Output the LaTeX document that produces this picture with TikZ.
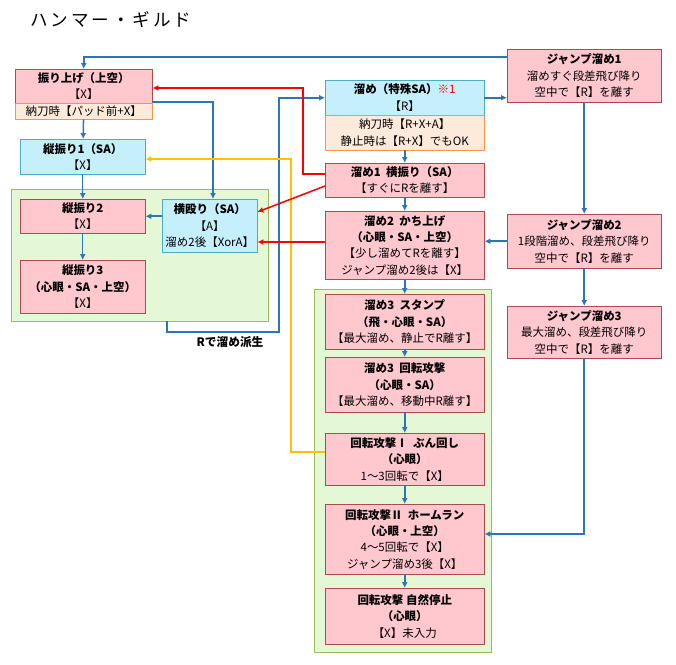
\documentclass[tikz,border=0pt]{standalone}
\usepackage{fontspec}
\setmainfont{Noto Sans CJK JP}
\usepackage{xcolor}
\usetikzlibrary{arrows.meta}
\definecolor{pinkF}{HTML}{FFC7CE}
\definecolor{pinkD}{HTML}{B04A4A}
\definecolor{blueF}{HTML}{C6EFFC}
\definecolor{blueD}{HTML}{4BACC6}
\definecolor{oranF}{HTML}{FDEADA}
\definecolor{oranD}{HTML}{F79646}
\definecolor{greenF}{HTML}{E4F8D6}
\definecolor{greenD}{HTML}{9BBB59}
\definecolor{lineB}{HTML}{2E75B6}
\definecolor{lineR}{HTML}{FF0000}
\definecolor{lineY}{HTML}{FFC000}
\tikzset{
  box/.style={anchor=north west, inner sep=0pt, align=center, font=\fontsize{9.8}{14}\selectfont},
  pinkbox/.style={box, draw=pinkD, fill=pinkF},
  bluebox/.style={box, draw=blueD, fill=blueF},
  subbox/.style={box, draw=oranD, fill=oranF},
  group/.style={draw=greenD, fill=greenF},
  link/.style={draw=lineB, line width=1.3pt, -{Latex[length=5pt,width=5pt]}},
  redlink/.style={link, draw=lineR},
  yellink/.style={link, draw=lineY}
}
\begin{document}
\begin{tikzpicture}[x=0.03cm, y=-0.03cm]
	\useasboundingbox (0,0) rectangle (676,664);
	\fill[white] (0,0) rectangle (676,664);
	\node[anchor=west, font=\fontsize{15}{17}\selectfont] (title) at (26,20) {ハ\,ン\,マ\,ー\,・\,ギ\,ル\,ド};

	% groups
	\draw[group] (11,189) rectangle (268,321);
	\draw[group] (314,289) rectangle (491,652);
	\coordinate (gleft) at (167,321);

	% left column
	\node[pinkbox, minimum width=4.11cm, minimum height=1.02cm] (furiage) at (15,69) {\textbf{振り上げ（上空）}\\【X】};
	\node[subbox, minimum width=4.11cm, minimum height=0.48cm] (furiagesub) at (15,103) {納刀時【パッド前+X】};
	\node[bluebox, minimum width=3.75cm, minimum height=1.05cm] (tate1) at (20,139) {\textbf{縦振り1（SA）}\\【X】};
	\node[pinkbox, minimum width=3.75cm, minimum height=1.02cm] (tate2) at (20,199) {\textbf{縦振り2}\\【X】};
	\node[pinkbox, minimum width=3.75cm, minimum height=1.59cm] (tate3) at (20,260) {\textbf{縦振り3}\\\textbf{（心眼・SA・上空）}\\【X】};
	\node[bluebox, minimum width=2.85cm, minimum height=1.59cm] (yoko) at (162,199) {\textbf{横殴り（SA）}\\【A】\\溜め2後【XorA】};

	% charge column
	\node[bluebox, minimum width=4.77cm, minimum height=1.05cm] (tame) at (325,80) {\textbf{溜め（特殊SA）}\textcolor{lineR}{※1}\\【R】};
	\node[subbox, minimum width=4.77cm, minimum height=1.05cm] (tamesub) at (325,115) {納刀時【R+X+A】\\静止時は【R+X】でもOK};
	\node[pinkbox, minimum width=4.77cm, minimum height=1.02cm] (tame1) at (325,163) {\textbf{溜め1\ \ 横振り（SA）}\\【すぐにRを離す】};
	\node[pinkbox, minimum width=4.77cm, minimum height=2.04cm] (tame2) at (325,211) {\textbf{溜め2\ \ かち上げ}\\\textbf{（心眼・SA・上空）}\\【少し溜めてRを離す】\\ジャンプ溜め2後は【X】};
	\node[pinkbox, minimum width=4.77cm, minimum height=1.65cm] (tame3a) at (325,294) {\textbf{溜め3\ \ スタンプ}\\\textbf{（飛・心眼・SA）}\\【最大溜め、静止でR離す】};
	\node[pinkbox, minimum width=4.77cm, minimum height=1.65cm] (tame3b) at (325,357) {\textbf{溜め3\ \ 回転攻撃}\\\textbf{（心眼・SA）}\\【最大溜め、移動中R離す】};
	\node[pinkbox, minimum width=4.77cm, minimum height=1.56cm] (kaiten1) at (325,433) {\textbf{回転攻撃Ⅰ\ \ ぶん回し}\\\textbf{（心眼）}\\1～3回転で【X】};
	\node[pinkbox, minimum width=4.77cm, minimum height=2.1cm] (kaiten2) at (325,504) {\textbf{回転攻撃Ⅱ\ \ ホームラン}\\\textbf{（心眼・上空）}\\4～5回転で【X】\\ジャンプ溜め3後【X】};
	\node[pinkbox, minimum width=4.77cm, minimum height=1.68cm] (teishi) at (325,588) {\textbf{回転攻撃\ 自然停止}\\\textbf{（心眼）}\\【X】未入力};

	% jump column
	\node[pinkbox, minimum width=4.62cm, minimum height=1.59cm] (jump1) at (507,49) {\textbf{ジャンプ溜め1}\\溜めすぐ段差飛び降り\\空中で【R】を離す};
	\node[pinkbox, minimum width=4.62cm, minimum height=1.62cm] (jump2) at (507,214) {\textbf{ジャンプ溜め2}\\1段階溜め、段差飛び降り\\空中で【R】を離す};
	\node[pinkbox, minimum width=4.62cm, minimum height=1.56cm] (jump3) at (507,306) {\textbf{ジャンプ溜め3}\\最大溜め、段差飛び降り\\空中で【R】を離す};

	% connectors
	\draw[link] (jump1.west |- 0,57) -| (furiage.north);
	\draw[link] (furiagesub) -- (tate1);
	\draw[link] (tate1) -- (tate1 |- 0,199);
	\draw[link] (tate2) -- (tate3);
	\draw[link] (furiage.north east |- 0,102) -| (yoko.north -| 213,0);
	\draw[link] (yoko.west |- tate2) -- (tate2);
	\draw[link] (gleft) |- (279,332) |- (tame.west);
	\node[font=\fontsize{10}{12}\selectfont\bfseries] (hasei) at (230,342) {Rで溜め派生};
	\draw[yellink] (kaiten1.west |- 0,452) -| (291,159) -- (tate1.east |- 0,159);
	\draw[redlink] (tame1.west |- 0,174) -| (303,88) -- (furiage.east |- 0,88);
	\draw[redlink] (tame1.west |- 0,186) -- (yoko.east |- 0,212);
	\draw[redlink] (tame2.west |- 0,242) -- (yoko.east |- 0,242);
	\draw[link] (tamesub) -- (tame1);
	\draw[link] (tame1) -- (tame2);
	\draw[link] (tame2) -- (tame3a);
	\draw[link] (tame3a) -- (tame3b);
	\draw[link] (tame3b) -- (kaiten1);
	\draw[link] (kaiten1) -- (kaiten2);
	\draw[link] (kaiten2) -- (teishi);
	\draw[link] (tame.east) -- (tame.east -| jump1.west);
	\draw[link] (jump1) -- (jump2);
	\draw[link] (jump2.west) -- (jump2.west -| tame2.east);
	\draw[link] (jump2) -- (jump3);
	\draw[link] (jump3.south) |- (kaiten2.east |- 0,534);
\end{tikzpicture}
\end{document}
